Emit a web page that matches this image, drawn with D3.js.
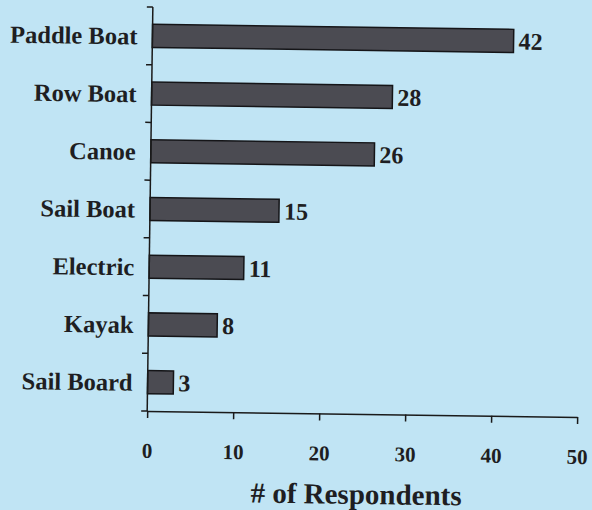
<!DOCTYPE html>
<html><head><meta charset="utf-8">
<script src="https://cdn.jsdelivr.net/npm/d3@7"></script>
<style>html,body{margin:0;padding:0;background:#c0e4f4;}svg{display:block;}</style>
</head><body>
<script>
const categories = ["Paddle Boat","Row Boat","Canoe","Sail Boat","Electric","Kayak","Sail Board"];
const values = [42,28,26,15,11,8,3];
const xTicks = [0,10,20,30,40,50];
const axisTitle = "# of Respondents";

(function(){
const W = 592, H = 510;
const mLeft = 150, mRight = 580, mTop = 10, mBottom = 414;
const svg = d3.select("body").append("svg").attr("width",W).attr("height",H);
svg.append("rect").attr("width",W).attr("height",H).attr("fill","#c0e4f4");
const g = svg.append("g").attr("transform","rotate(0.8,365,212)");
const FF = "Liberation Serif";

const x = d3.scaleLinear().domain([0,50]).range([mLeft,mRight]);
const y = d3.scaleBand().domain(categories).range([mTop,mBottom]).paddingInner(0.6).paddingOuter(0.3);

g.selectAll("rect.bar").data(values).join("rect").attr("class","bar")
  .attr("x",x(0)).attr("y",(d,i)=>y(categories[i]))
  .attr("width",d=>x(d)-x(0)).attr("height",y.bandwidth())
  .attr("fill","#4b4b52").attr("stroke","#151518").attr("stroke-width",1.5);

g.selectAll("text.val").data(values).join("text").attr("class","val")
  .attr("x",d=>x(d)+5).attr("y",(d,i)=>y(categories[i])+y.bandwidth()/2)
  .attr("dy","0.36em").attr("font-family",FF).attr("font-weight","bold")
  .attr("font-size",24).attr("fill","#1e1e22").text(d=>d);

const yb = d3.scaleBand().domain(categories).range([mTop,mBottom]);
const ya = g.append("g").attr("transform",`translate(${mLeft},0)`);
ya.append("line").attr("y1",mTop).attr("y2",mBottom).attr("stroke","#1a1a1a").attr("stroke-width",1.5);
const bounds = categories.map(c=>yb(c)).concat([mBottom]);
ya.selectAll("line.t").data(bounds).join("line").attr("class","t")
  .attr("x1",-6).attr("x2",0).attr("y1",d=>d).attr("y2",d=>d).attr("stroke","#1a1a1a").attr("stroke-width",1.5);
ya.selectAll("text").data(categories).join("text")
  .attr("x",-15).attr("y",d=>y(d)+y.bandwidth()/2).attr("dy","0.36em")
  .attr("text-anchor","end").attr("font-family",FF).attr("font-weight","bold")
  .attr("font-size",24.5).attr("fill","#1e1e22").text(d=>d);

const xa = g.append("g").attr("transform",`translate(0,${mBottom})`)
  .call(d3.axisBottom(x).tickValues(xTicks).tickSize(7).tickSizeOuter(0).tickPadding(25));
xa.select(".domain").attr("stroke","#1a1a1a").attr("stroke-width",1.5);
xa.selectAll(".tick line").attr("stroke","#1a1a1a").attr("stroke-width",1.5);
xa.selectAll(".tick text").attr("font-family",FF).attr("font-weight","bold")
  .attr("font-size",21).attr("fill","#1e1e22");

g.append("text").attr("x",(mLeft+mRight)/2-5).attr("y",mBottom+90)
  .attr("text-anchor","middle").attr("font-family",FF).attr("font-weight","bold")
  .attr("font-size",29).attr("fill","#1e1e22").text(axisTitle);
})();
</script>
</body></html>
